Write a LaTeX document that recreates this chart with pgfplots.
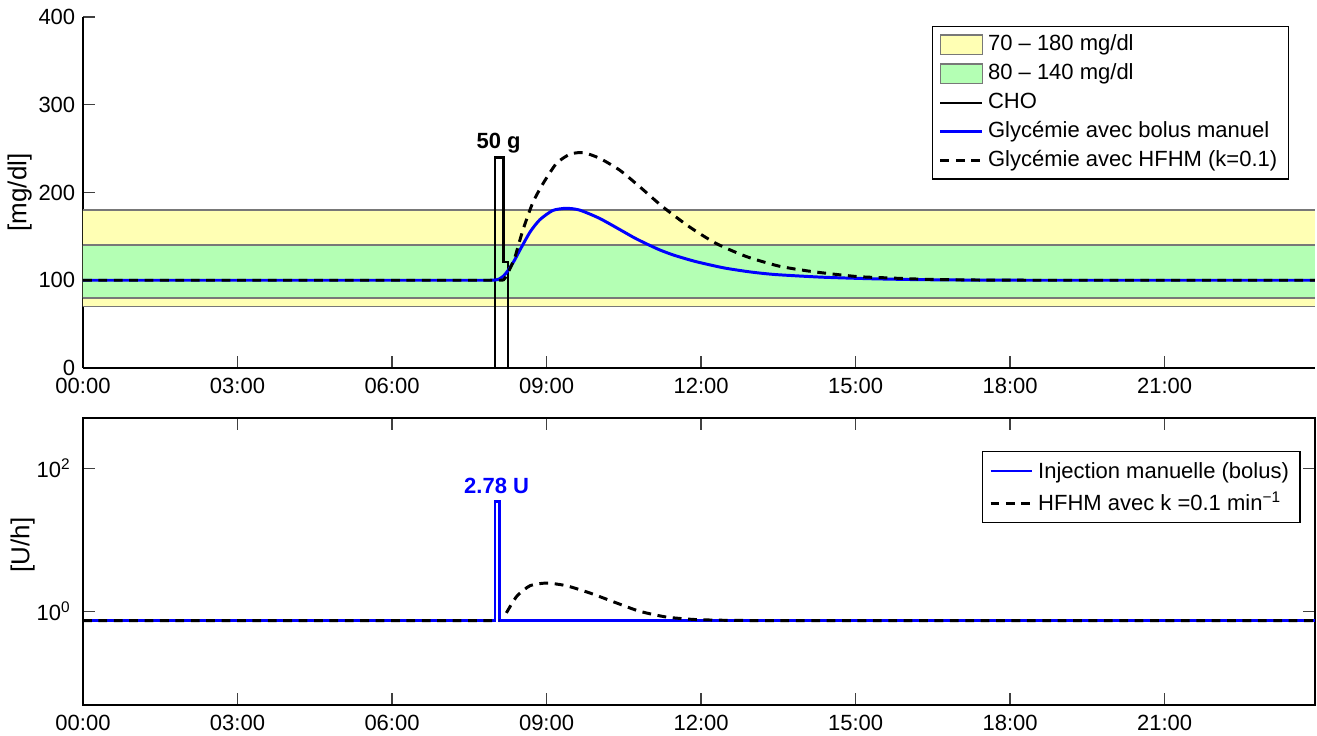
\documentclass[border=0pt]{standalone}
\usepackage{fontspec}
\setmainfont{Liberation Sans}
\usepackage{pgfplots}
\pgfplotsset{compat=1.18}

\definecolor{yband}{RGB}{255,255,180}
\definecolor{gband}{RGB}{180,255,180}
\definecolor{bline}{RGB}{120,120,120}

\pgfplotsset{
  common/.style={
    scale only axis, width=559.9pt,
    xmin=0, xmax=23.9167,
    tick align=inside, major tick length=5.45pt,
    tick style={line width=0.6pt, black!75},
    axis line style={line width=0.75pt},
    xtick={0,3,...,21},
    xticklabels={00:00,03:00,06:00,09:00,12:00,15:00,18:00,21:00},
    ticklabel style={font=\fontsize{10}{12}\selectfont},
    xticklabel style={yshift=-1pt},
    legend image code/.code={\draw[##1] (0pt,0pt) -- (19pt,0pt);},
    legend cell align=left,
  },
  patchleg/.style={legend image code/.code={\draw[##1, draw=bline, line width=0.6pt] (0pt,-4.5pt) rectangle (19pt,4.5pt);}},
}

\begin{document}
\begin{tikzpicture}
\useasboundingbox (0,0) rectangle (598.6pt,334.5pt);
\begin{axis}[
  common,
  at={(37.72pt,167.25pt)}, anchor=south west,
  height=159.5pt,
  ymin=0, ymax=400,
  axis x line*=bottom, axis y line*=left,
  x axis line style={-}, y axis line style={-},
  ytick={0,100,200,300,400},
  yticklabels={0,100,200,300,400},
  ylabel={[mg/dl]},
  ylabel style={at={(axis description cs:-0.0514,0.5)}, anchor=center, font=\fontsize{11.8}{14}\selectfont},
  legend style={at={(axis description cs:1,1)}, xshift=-11.8pt, yshift=-4.1pt, anchor=north east,
    draw=black, line width=0.6pt, font=\fontsize{10}{12}\selectfont,
    inner xsep=3pt, inner ysep=1.6pt,
    nodes={inner sep=2pt, text depth=0.2em, text height=0.72em}},
]
\addplot[fill=yband, draw=none, patchleg] coordinates {(0,70) (23.9167,70) (23.9167,180) (0,180) (0,70)};
\addlegendentry{70 – 180 mg/dl}
\addplot[fill=gband, draw=none, patchleg] coordinates {(0,80) (23.9167,80) (23.9167,140) (0,140) (0,80)};
\addlegendentry{80 – 140 mg/dl}
\addplot[bline, line width=0.75pt, forget plot] coordinates {(0,70) (23.9167,70)};
\addplot[bline, line width=0.75pt, forget plot] coordinates {(0,80) (23.9167,80)};
\addplot[bline, line width=0.75pt, forget plot] coordinates {(0,140) (23.9167,140)};
\addplot[bline, line width=0.75pt, forget plot] coordinates {(0,180) (23.9167,180)};
\addplot[black, line width=1.05pt] coordinates {(0,0) (8.0,0) (8.0,240) (8.1667,240) (8.1667,121) (8.25,121) (8.25,0) (23.9167,0)};
\addlegendentry{CHO}
\addplot[blue, line width=1.35pt, smooth, tension=0.4] coordinates {
(0,100) (3,100) (5,100) (6.5,100) (7.3,100) (7.7,100) (7.9,100) (8.0,100.2) (8.083,101.5) (8.167,105) (8.25,111) (8.37,122) (8.47,133) (8.68,155) (8.87,169) (9.12,179.5) (9.38,182) (9.64,180) (10.03,170.5) (10.49,155.5) (10.7,148.5) (10.94,141.5) (11.2,134.5) (11.45,129) (11.7,124.5) (11.95,120.5) (12.45,114) (12.95,109.5) (13.44,106.5) (14.34,103.5) (15.3,101.7) (16.2,100.7) (17.2,100.2) (18.3,100) (19.6,100) (21.5,100) (23.9167,100)};
\addlegendentry{Glycémie avec bolus manuel}
\addplot[black, line width=1.35pt, dash pattern=on 4pt off 3pt, smooth, tension=0.4] coordinates {
(0,100) (3,100) (5,100) (6.5,100) (7.3,100) (7.7,100) (7.9,100) (8.0,100) (8.1,100) (8.167,100.5) (8.23,106) (8.32,117) (8.39,127) (8.54,157) (8.73,188) (8.93,210) (9.19,233) (9.45,243.5) (9.71,245.5) (10.03,239) (10.42,225.5) (10.81,206.5) (11.25,184) (11.77,161) (12.29,142) (12.88,127) (13.52,116) (14.17,109.8) (15.01,104.3) (15.66,102.6) (16.4,101) (17.3,100.3) (18.3,100) (19.6,100) (21.5,100) (23.9167,100)};
\addlegendentry{Glycémie avec HFHM (k=0.1)}
\node[font=\bfseries\fontsize{10}{12}\selectfont, anchor=base] at (axis cs:8.07,250.7) {50 g};
\end{axis}

\begin{axis}[
  common,
  at={(37.72pt,14.09pt)}, anchor=south west,
  height=130.4pt,
  ymode=log, ymin=0.05, ymax=500,
  ytick={1,100}, yticklabels={10\textsuperscript{0},10\textsuperscript{2}},
  yminorticks=false,
  yticklabel style={xshift=-2pt},
  unbounded coords=jump,
  ylabel={[U/h]},
  ylabel style={at={(axis description cs:-0.049,0.5575)}, anchor=center, font=\fontsize{11.8}{14}\selectfont},
  legend style={at={(axis description cs:1,1)}, xshift=-6.5pt, yshift=-15pt, anchor=north east,
    draw=black, line width=0.6pt, font=\fontsize{10}{12}\selectfont,
    inner xsep=3pt, inner ysep=1.6pt,
    nodes={inner sep=2pt, text depth=0.2em, text height=0.85em}},
]
\addplot[blue, line width=1.2pt] coordinates {(0,0.75) (8.0,0.75) (8.0,34) (8.0833,34) (8.0833,0.75) (23.9167,0.75)};
\addlegendentry{Injection manuelle (bolus)}
\addplot[black, line width=1.35pt, dash pattern=on 4pt off 3pt, smooth, tension=0.4] coordinates {
(0,0.75) (8.0833,0.75) (8.15,nan) (8.22,0.96) (8.42,1.63) (8.68,2.30) (9.0,2.50) (9.38,2.30) (9.84,1.82) (10.36,1.32) (10.81,1.01) (11.33,0.84) (11.9,0.775) (12.6,0.755) (13.4,0.75) (14.5,0.75) (16,0.75) (18,0.75) (20.5,0.75) (23.9167,0.75)};
\addlegendentry{HFHM avec k =0.1 min\textsuperscript{−1}}
\node[font=\bfseries\fontsize{10}{12}\selectfont, anchor=base, text=blue] at (axis cs:8.03,45) {2.78 U};
\end{axis}
\end{tikzpicture}
\end{document}
